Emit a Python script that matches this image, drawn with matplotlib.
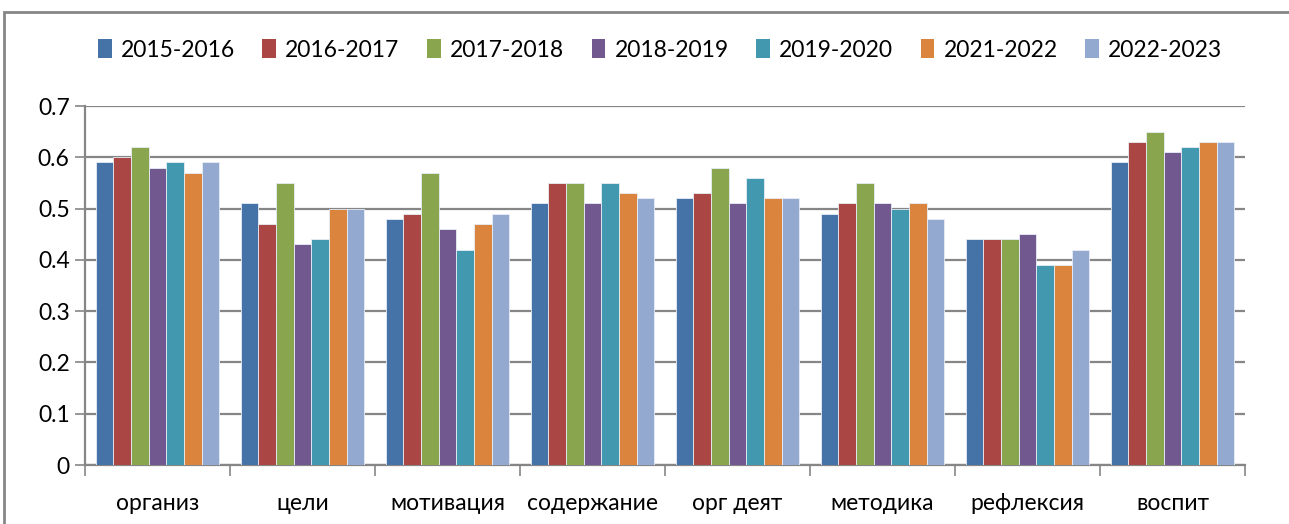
import matplotlib
matplotlib.use("Agg")
import matplotlib.pyplot as plt
from matplotlib.patches import Rectangle, Patch
import numpy as np

categories = ["организ", "цели", "мотивация", "содержание", "орг деят",
              "методика", "рефлексия", "воспит"]
series_names = ["2015-2016", "2016-2017", "2017-2018", "2018-2019",
                "2019-2020", "2021-2022", "2022-2023"]

s2015 = [0.59, 0.51, 0.48, 0.51, 0.52, 0.49, 0.44, 0.59]
s2016 = [0.60, 0.47, 0.49, 0.55, 0.53, 0.51, 0.44, 0.63]
s2017 = [0.62, 0.55, 0.57, 0.55, 0.58, 0.55, 0.44, 0.65]
s2018 = [0.58, 0.43, 0.46, 0.51, 0.51, 0.51, 0.45, 0.61]
s2019 = [0.59, 0.44, 0.42, 0.55, 0.56, 0.50, 0.39, 0.62]
s2021 = [0.57, 0.50, 0.47, 0.53, 0.52, 0.51, 0.39, 0.63]
s2022 = [0.59, 0.50, 0.49, 0.52, 0.52, 0.48, 0.42, 0.63]
series_values = [s2015, s2016, s2017, s2018, s2019, s2021, s2022]

colors = ["#4572a7", "#aa4643", "#89a54e", "#71588f",
          "#4198af", "#db843d", "#93a9cf"]

yticks = [0, 0.1, 0.2, 0.3, 0.4, 0.5, 0.6, 0.7]
ytick_labels = ["0", "0.1", "0.2", "0.3", "0.4", "0.5", "0.6", "0.7"]

plt.rcParams["font.family"] = ["Lato", "DejaVu Sans"]

fig = plt.figure(figsize=(12.89, 5.24), dpi=100)
W, H = 1289, 524

# outer chart frame (runs past right and bottom edges)
fig.patches.append(Rectangle((4 / W, -0.05), 1.2, (H - 12) / H + 0.05,
                             transform=fig.transFigure, fill=False,
                             edgecolor="#868686", linewidth=2))

ax = fig.add_axes([85 / W, (H - 465) / H, (1245 - 85) / W, (465 - 106) / H])

n = len(series_names)
x = np.arange(len(categories))
group_w = 0.85
bw = group_w / n
for i, (name, vals, c) in enumerate(zip(series_names, series_values, colors)):
    offs = -group_w / 2 + bw * (i + 0.5)
    ax.bar(x + offs, vals, width=bw, color=c, edgecolor="#e8eef5",
           linewidth=0.6, label=name, zorder=3)

ax.set_xlim(-0.5, len(categories) - 0.5)
ax.set_ylim(0, 0.7)
ax.set_yticks(yticks)
ax.set_yticklabels(ytick_labels)
ax.yaxis.grid(True, color="#868686", linewidth=1.6, zorder=0)
ax.set_axisbelow(True)

ax.set_xticks(x)
ax.set_xticklabels(categories)
ax.set_xticks(np.arange(-0.5, len(categories)), minor=True)
ax.tick_params(axis="x", which="major", length=0, pad=20, labelsize=16.5)
ax.tick_params(axis="x", which="minor", length=8, width=1.2, color="#868686")
ax.tick_params(axis="y", length=7, width=1.2, color="#868686", labelsize=16.5, pad=4)

for side in ["top", "right"]:
    ax.spines[side].set_visible(False)
for side in ["left", "bottom"]:
    ax.spines[side].set_color("#868686")
    ax.spines[side].set_linewidth(1.6)

handles = [Patch(facecolor=c, edgecolor="none") for c in colors]
fig.legend(handles, series_names, loc="center", ncol=n,
           bbox_to_anchor=(660 / W, (H - 50) / H), frameon=False,
           fontsize=16.5, handlelength=0.6, handleheight=0.9,
           handletextpad=0.4, columnspacing=1.2)

fig.savefig("out.png", dpi=100)
